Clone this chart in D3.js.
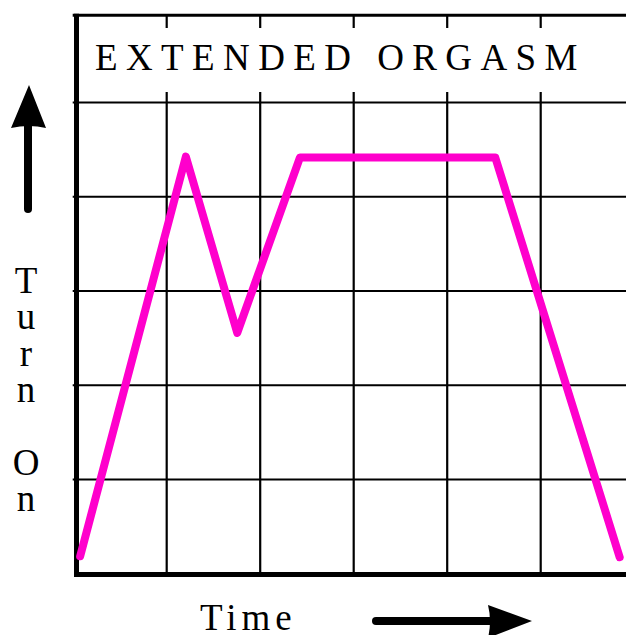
<!DOCTYPE html>
<html lang="en">
<head>
<meta charset="UTF-8">
<title>Extended Orgasm</title>
<script src="https://cdn.jsdelivr.net/npm/d3@7"></script>
<style>
html,body {margin:0;padding:0;background:#fff;}
svg {display:block;}
.grid line {stroke:#000;stroke-width:2.2;}
.grid path {display:none;}
text {font-family:"Liberation Serif","Times New Roman",serif;fill:#000;}
</style>
</head>
<body>
<div id="chart"></div>
<script>
// time / turn on, in grid units
const time   = [0.08, 1.21, 1.76, 2.43, 4.52, 5.85];
const turnOn = [0.18, 4.42, 2.55, 4.41, 4.41, 0.17];
const gridX = [1, 2, 3, 4, 5];
const gridY = [1, 2, 3, 4, 5];
const title = "EXTENDED ORGASM";
const yLabel = ["T", "u", "r", "n", "", "O", "n"];
const xLabel = "Time";

const W = 626, H = 635;
const x = d3.scaleLinear().domain([0, 6]).range([72.7, 633.7]);
const y = d3.scaleLinear().domain([0, 6]).range([573.25, 7.75]);
const yTop = 5.92;

const svg = d3.select('#chart').append('svg')
	.attr('width', W)
	.attr('height', H);

// grid
svg.append('g')
	.attr('class', 'grid')
	.attr('transform', 'translate(0,' + y(0) + ')')
	.call(d3.axisBottom(x).tickValues(gridX).tickSize(-(y(0) - y(yTop))).tickFormat(''));
svg.append('g')
	.attr('class', 'grid')
	.attr('transform', 'translate(' + x(0) + ',0)')
	.call(d3.axisLeft(y).tickValues(gridY).tickSize(-(x(6) - x(0))).tickFormat(''));

// title box hides the grid in the top row
svg.append('rect')
	.attr('x', x(0) + 6)
	.attr('y', 28)
	.attr('width', W)
	.attr('height', 64)
	.attr('fill', '#fff');

svg.append('text')
	.attr('x', 95)
	.attr('y', 69.5)
	.attr('font-size', 37)
	.attr('letter-spacing', 8.4)
	.text(title);

// frame
svg.append('line').attr('x1', x(0)).attr('x2', W + 10)
	.attr('y1', y(yTop)).attr('y2', y(yTop))
	.attr('stroke', '#000').attr('stroke-width', 3);
svg.append('line').attr('x1', x(0) + 3.8).attr('x2', x(0) + 3.8)
	.attr('y1', y(yTop) - 1.5).attr('y2', y(0) + 3.7)
	.attr('stroke', '#000').attr('stroke-width', 5);
svg.append('line').attr('x1', x(0) + 1.3).attr('x2', W + 10)
	.attr('y1', y(0) + 1.3).attr('y2', y(0) + 1.3)
	.attr('stroke', '#000').attr('stroke-width', 5);

// curve
const line = d3.line()
	.x((d, i) => x(time[i]))
	.y(d => y(d));
svg.append('path')
	.datum(turnOn)
	.attr('d', line)
	.attr('fill', 'none')
	.attr('stroke', '#ff00cc')
	.attr('stroke-width', 8)
	.attr('stroke-linejoin', 'round')
	.attr('stroke-linecap', 'round');

// y label, one letter per line
svg.append('g')
	.attr('font-size', 37)
	.attr('text-anchor', 'middle')
	.selectAll('text')
	.data(yLabel.filter(d => d))
	.enter().append('text')
	.attr('x', 26)
	.attr('y', d => 293 + yLabel.indexOf(d) * 36.3)
	.each(function (d, i) {
		// second "n" sits on the last row
		const rows = [0, 1, 2, 3, 5, 6];
		d3.select(this).attr('y', 293 + rows[i] * 36.3);
	})
	.text(d => d);

// x label
svg.append('text')
	.attr('x', 200)
	.attr('y', 630)
	.attr('font-size', 37)
	.attr('letter-spacing', 5)
	.text(xLabel);

// arrows
svg.append('line').attr('x1', 28).attr('x2', 28).attr('y1', 125).attr('y2', 209)
	.attr('stroke', '#000').attr('stroke-width', 8).attr('stroke-linecap', 'round');
svg.append('path').attr('d', 'M29,85 L46,128 Q29,124 11,128 Z').attr('fill', '#000');

svg.append('line').attr('x1', 376).attr('x2', 492).attr('y1', 621).attr('y2', 621)
	.attr('stroke', '#000').attr('stroke-width', 8).attr('stroke-linecap', 'round');
svg.append('path').attr('d', 'M532,621 L488,605 Q492,621 488,638 Z').attr('fill', '#000');
</script>
</body>
</html>
